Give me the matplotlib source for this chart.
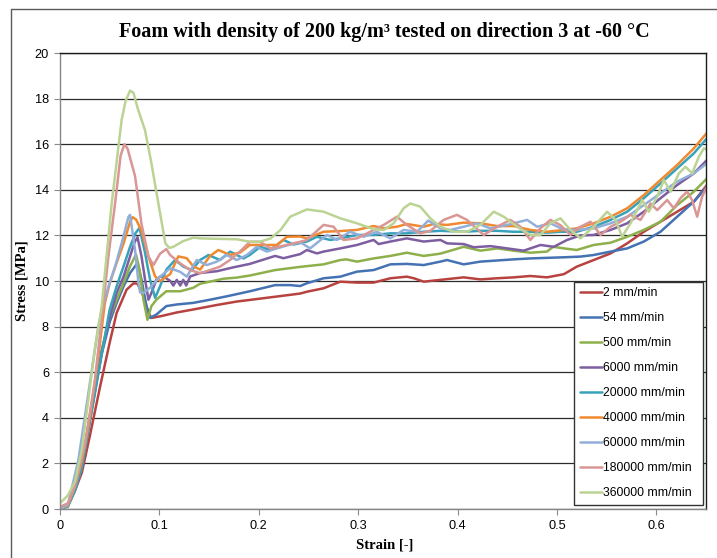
import numpy as np
import matplotlib
matplotlib.use("Agg")
import matplotlib.pyplot as plt
from matplotlib.lines import Line2D

# (strain, stress) points
rate_2 = [(0, 0), (0.008, 0.15), (0.015, 0.8), (0.022, 1.6), (0.030, 3.2), (0.040, 5.3), (0.050, 7.3),
          (0.057, 8.6), (0.067, 9.62), (0.074, 9.9), (0.078, 9.88), (0.084, 9.33), (0.089, 8.6),
          (0.092, 8.38), (0.1007, 8.45), (0.1175, 8.62), (0.134, 8.75), (0.158, 8.95), (0.178, 9.1),
          (0.191, 9.17), (0.2165, 9.31), (0.2417, 9.45), (0.2484, 9.53), (0.2652, 9.68), (0.282, 9.97),
          (0.2988, 9.93), (0.3156, 9.93), (0.3324, 10.12), (0.349, 10.19), (0.356, 10.12), (0.366, 9.97),
          (0.3827, 10.05), (0.4062, 10.16), (0.423, 10.07), (0.4398, 10.12), (0.4566, 10.16),
          (0.4733, 10.22), (0.49, 10.16), (0.507, 10.3), (0.520, 10.63), (0.537, 10.92), (0.554, 11.21),
          (0.5707, 11.65), (0.5874, 12.16), (0.6042, 12.6), (0.621, 13.04), (0.6378, 13.48), (0.651, 14.21)]

rate_54 = [(0, 0), (0.008, 0.15), (0.015, 0.9), (0.022, 1.9), (0.032, 4.4), (0.042, 6.8), (0.050, 8.2),
           (0.057, 9.04), (0.064, 9.77), (0.0705, 10.35), (0.078, 10.79), (0.082, 10.06), (0.087, 8.9),
           (0.0906, 8.38), (0.097, 8.53), (0.107, 8.9), (0.1175, 8.97), (0.134, 9.04), (0.151, 9.18),
           (0.168, 9.33), (0.191, 9.55), (0.2165, 9.82), (0.2316, 9.82), (0.2417, 9.78), (0.2484, 9.9),
           (0.2652, 10.12), (0.282, 10.19), (0.2988, 10.41), (0.3156, 10.48), (0.3324, 10.73),
           (0.349, 10.75), (0.366, 10.7), (0.3827, 10.85), (0.3894, 10.92), (0.4062, 10.73),
           (0.423, 10.85), (0.4566, 10.95), (0.4733, 10.99), (0.507, 11.04), (0.5237, 11.07),
           (0.537, 11.14), (0.554, 11.29), (0.5707, 11.43), (0.5874, 11.73), (0.6042, 12.16),
           (0.621, 12.82), (0.6378, 13.48), (0.651, 14.14)]

rate_500 = [(0, 0), (0.008, 0.15), (0.015, 1.0), (0.022, 2.0), (0.032, 4.6), (0.042, 7.0), (0.050, 8.4),
            (0.057, 9.18), (0.064, 9.92), (0.0705, 10.65), (0.0765, 11.16), (0.080, 10.5), (0.084, 9.18),
            (0.088, 8.3), (0.092, 8.9), (0.097, 9.18), (0.107, 9.55), (0.121, 9.55), (0.134, 9.7),
            (0.141, 9.88), (0.1645, 10.1), (0.178, 10.15), (0.191, 10.24), (0.2165, 10.48),
            (0.2417, 10.62), (0.2652, 10.73), (0.282, 10.92), (0.2878, 10.95), (0.2988, 10.85),
            (0.3156, 10.99), (0.3324, 11.1), (0.349, 11.24), (0.366, 11.1), (0.3827, 11.2),
            (0.4062, 11.5), (0.423, 11.33), (0.4398, 11.43), (0.4566, 11.33), (0.4733, 11.24),
            (0.49, 11.29), (0.4963, 11.5), (0.507, 11.43), (0.520, 11.36), (0.537, 11.58),
            (0.554, 11.68), (0.5707, 11.94), (0.5874, 12.24), (0.6042, 12.6), (0.621, 13.33),
            (0.6378, 13.92), (0.651, 14.5)]

rate_6000 = [(0, 0), (0.008, 0.15), (0.015, 0.9), (0.022, 1.9), (0.032, 4.4), (0.042, 6.9), (0.050, 8.4),
             (0.057, 9.48), (0.064, 10.2), (0.0705, 11.08), (0.075, 11.7), (0.078, 11.92), (0.082, 11.08),
             (0.0856, 10.06), (0.089, 9.18), (0.092, 9.48), (0.097, 10.06), (0.1007, 10.19),
             (0.104, 10.2), (0.111, 10.0), (0.114, 9.8), (0.1175, 10.05), (0.121, 9.8), (0.124, 10.05),
             (0.127, 9.8), (0.131, 10.2), (0.141, 10.35), (0.158, 10.43), (0.1745, 10.6), (0.191, 10.75),
             (0.2165, 11.1), (0.2249, 11.0), (0.2417, 11.18), (0.2484, 11.36), (0.2585, 11.21),
             (0.2652, 11.29), (0.282, 11.43), (0.2988, 11.58), (0.3156, 11.8), (0.3206, 11.62),
             (0.3324, 11.73), (0.349, 11.87), (0.366, 11.73), (0.3827, 11.8), (0.3894, 11.65),
             (0.4062, 11.62), (0.4163, 11.48), (0.4331, 11.53), (0.4499, 11.43), (0.4666, 11.33),
             (0.4834, 11.58), (0.4968, 11.5), (0.5102, 11.8), (0.5237, 12.0), (0.537, 12.02),
             (0.554, 12.24), (0.5707, 12.53), (0.5874, 13.04), (0.6042, 13.63), (0.621, 14.21),
             (0.6378, 14.72), (0.651, 15.31)]

rate_20000 = [(0, 0), (0.008, 0.1), (0.015, 0.8), (0.022, 1.8), (0.032, 4.3), (0.042, 6.8), (0.050, 8.75),
              (0.057, 9.77), (0.064, 10.65), (0.0705, 11.5), (0.076, 12.1), (0.080, 12.33),
              (0.0856, 11.23), (0.0906, 10.06), (0.0957, 9.26), (0.1007, 9.77), (0.107, 10.5),
              (0.1158, 10.92), (0.1242, 10.63), (0.1326, 10.48), (0.141, 10.92), (0.1494, 11.14),
              (0.161, 10.92), (0.1712, 11.29), (0.1846, 10.99), (0.191, 11.14), (0.2014, 11.5),
              (0.2115, 11.36), (0.2249, 11.8), (0.235, 11.6), (0.2484, 11.73), (0.2585, 11.94),
              (0.272, 11.8), (0.282, 11.87), (0.2988, 12.02), (0.3156, 12.02), (0.3324, 12.09),
              (0.349, 12.09), (0.366, 12.16), (0.3827, 12.2), (0.4062, 12.16), (0.423, 12.2),
              (0.4398, 12.2), (0.4566, 12.16), (0.4733, 12.16), (0.49, 12.12), (0.5035, 12.16),
              (0.520, 12.16), (0.537, 12.38), (0.554, 12.68), (0.5707, 13.04), (0.5874, 13.63),
              (0.6042, 14.28), (0.621, 14.94), (0.6378, 15.6), (0.651, 16.26)]

rate_40000 = [(0, 0), (0.008, 0.15), (0.015, 1.0), (0.022, 2.1), (0.030, 4.0), (0.038, 6.5), (0.045, 9.0),
              (0.050, 9.9), (0.057, 10.8), (0.064, 11.65), (0.0705, 12.6), (0.073, 12.8), (0.0765, 12.7),
              (0.082, 12.2), (0.089, 11.07), (0.0957, 10.2), (0.1007, 10.0), (0.1108, 10.3),
              (0.119, 11.08), (0.1275, 11.0), (0.134, 10.65), (0.141, 10.5), (0.151, 11.1),
              (0.1594, 11.36), (0.1712, 11.14), (0.1813, 11.25), (0.191, 11.58), (0.2048, 11.58),
              (0.2182, 11.58), (0.2283, 11.94), (0.2417, 11.95), (0.2484, 11.87), (0.2652, 12.16),
              (0.282, 12.19), (0.2988, 12.24), (0.3156, 12.41), (0.3257, 12.31), (0.339, 12.38),
              (0.349, 12.5), (0.366, 12.38), (0.376, 12.5), (0.3894, 12.46), (0.4062, 12.56),
              (0.423, 12.53), (0.4398, 12.41), (0.4566, 12.41), (0.4733, 12.24), (0.49, 12.16),
              (0.507, 12.24), (0.52, 12.31), (0.537, 12.53), (0.554, 12.82), (0.5707, 13.19),
              (0.5874, 13.77), (0.6042, 14.43), (0.621, 15.09), (0.6378, 15.82), (0.651, 16.5)]

rate_60000 = [(0, 0), (0.008, 0.2), (0.0185, 2.15), (0.0285, 5.07), (0.0386, 8.0), (0.042, 8.7),
              (0.0487, 9.75), (0.0554, 10.63), (0.062, 11.65), (0.0688, 12.8), (0.0705, 12.9),
              (0.0755, 11.36), (0.079, 9.9), (0.0806, 9.5), (0.084, 9.48), (0.0906, 9.7),
              (0.1007, 10.19), (0.1108, 10.56), (0.121, 10.4), (0.1276, 10.19), (0.1376, 10.92),
              (0.1477, 10.7), (0.1578, 10.85), (0.1678, 11.14), (0.1779, 10.92), (0.188, 11.14),
              (0.198, 11.5), (0.2081, 11.29), (0.2182, 11.43), (0.2316, 11.6), (0.2417, 11.7),
              (0.2517, 11.43), (0.2686, 12.02), (0.2786, 11.8), (0.292, 12.16), (0.3055, 11.94),
              (0.3189, 12.16), (0.3324, 11.87), (0.3458, 12.24), (0.3592, 12.16), (0.3706, 12.65),
              (0.3827, 12.31), (0.3927, 12.24), (0.4062, 12.38), (0.4196, 12.53), (0.4331, 12.31),
              (0.4499, 12.46), (0.47, 12.68), (0.4801, 12.38), (0.4935, 12.53), (0.507, 12.25),
              (0.52, 12.24), (0.537, 12.31), (0.554, 12.53), (0.5707, 12.82), (0.5874, 13.33),
              (0.6042, 13.85), (0.621, 14.36), (0.6378, 14.72), (0.651, 15.16)]

rate_180000 = [(0, 0.1), (0.008, 0.25), (0.015, 1.0), (0.025, 2.8), (0.035, 5.6), (0.0436, 9.0),
               (0.0487, 11.07), (0.0554, 13.4), (0.061, 15.5), (0.0648, 16.0), (0.068, 15.8),
               (0.0755, 14.6), (0.082, 12.5), (0.089, 11.07), (0.094, 10.7), (0.1007, 11.2),
               (0.107, 11.4), (0.1108, 11.14), (0.121, 10.77), (0.131, 10.48), (0.141, 10.34),
               (0.151, 10.48), (0.161, 10.63), (0.171, 10.92), (0.181, 11.29), (0.191, 11.72),
               (0.2014, 11.72), (0.2115, 11.43), (0.2249, 11.55), (0.2417, 11.72), (0.2484, 11.8),
               (0.2652, 12.46), (0.2753, 12.38), (0.2853, 11.8), (0.2988, 11.87), (0.3122, 12.16),
               (0.3257, 12.46), (0.339, 12.82), (0.349, 12.46), (0.3625, 12.09), (0.3726, 12.2),
               (0.386, 12.68), (0.3994, 12.9), (0.4095, 12.68), (0.4263, 12.02), (0.4398, 12.38),
               (0.4532, 12.68), (0.4633, 12.38), (0.4733, 11.8), (0.4834, 12.31), (0.4935, 12.68),
               (0.5035, 12.45), (0.5136, 12.02), (0.5237, 12.38), (0.5338, 12.6), (0.5439, 12.02),
               (0.554, 12.38), (0.564, 12.6), (0.574, 12.9), (0.5841, 12.68), (0.5942, 13.4),
               (0.6009, 13.11), (0.6109, 13.55), (0.6176, 13.19), (0.6243, 13.63), (0.631, 13.92),
               (0.636, 13.55), (0.6411, 12.82), (0.6461, 13.7), (0.651, 14.14)]

rate_360000 = [(0, 0.25), (0.008, 0.6), (0.015, 1.2), (0.022, 2.6), (0.0285, 4.8), (0.035, 7.0),
               (0.042, 8.9), (0.052, 13.4), (0.062, 17.06), (0.066, 17.9), (0.0705, 18.35),
               (0.074, 18.25), (0.078, 17.6), (0.0856, 16.6), (0.092, 15.16), (0.099, 13.4),
               (0.106, 11.65), (0.110, 11.45), (0.114, 11.5), (0.124, 11.75), (0.134, 11.9),
               (0.141, 11.87), (0.158, 11.85), (0.178, 11.83), (0.191, 11.72), (0.201, 11.72),
               (0.212, 11.87), (0.222, 12.24), (0.2316, 12.82), (0.2484, 13.14), (0.2652, 13.04),
               (0.282, 12.75), (0.2988, 12.53), (0.3156, 12.27), (0.3257, 12.24), (0.3357, 12.53),
               (0.3458, 13.19), (0.3525, 13.4), (0.3625, 13.26), (0.3726, 12.75), (0.3827, 12.38),
               (0.3961, 12.16), (0.4095, 12.16), (0.423, 12.46), (0.4364, 13.04), (0.4465, 12.82),
               (0.4599, 12.38), (0.4733, 12.02), (0.4834, 12.02), (0.4935, 12.53), (0.5035, 12.75),
               (0.5136, 12.24), (0.5237, 11.87), (0.537, 12.38), (0.5505, 13.04), (0.5589, 12.68),
               (0.5656, 11.94), (0.574, 12.53), (0.5858, 13.55), (0.5925, 13.04), (0.6009, 13.7),
               (0.6076, 14.43), (0.6143, 13.92), (0.6227, 14.72), (0.6294, 15.01), (0.6361, 14.72),
               (0.6428, 15.45), (0.6479, 15.82), (0.651, 15.75)]

labels = ["2 mm/min", "54 mm/min", "500 mm/min", "6000 mm/min", "20000 mm/min",
          "40000 mm/min", "60000 mm/min", "180000 mm/min", "360000 mm/min"]
series = [rate_2, rate_54, rate_500, rate_6000, rate_20000,
          rate_40000, rate_60000, rate_180000, rate_360000]
colors = ["#B8423F", "#4472B2", "#8DB04B", "#7D5EA0", "#38A2BB",
          "#F08A30", "#92AFD9", "#D99694", "#BBD393"]

x_ticks = [0, 0.1, 0.2, 0.3, 0.4, 0.5, 0.6]
y_ticks = [0, 2, 4, 6, 8, 10, 12, 14, 16, 18, 20]

W, H = 717, 558
fig = plt.figure(figsize=(W / 100, H / 100), dpi=100)
ax = fig.add_axes([60 / W, 1 - 509 / H, 646 / W, 456 / H])

for pts, lab, col in zip(series, labels, colors):
    d = np.array(pts)
    ax.plot(d[:, 0], d[:, 1], color=col, lw=1.8, label=lab,
            solid_joinstyle='round', solid_capstyle='round')

ax.set_xlim(0, 0.65)
ax.set_ylim(0, 20)
ax.set_xticks(x_ticks)
ax.set_xticklabels([("%g" % t) for t in x_ticks])
ax.set_yticks(y_ticks)
ax.yaxis.grid(True, color="#2b2b2b", lw=0.9)
ax.set_axisbelow(True)
ax.tick_params(axis='both', direction='out', length=4, width=0.8, color="#8a8a8a",
               labelsize=9.2, pad=4)
for lbl in ax.get_xticklabels() + ax.get_yticklabels():
    lbl.set_family("Liberation Sans")
for s in ["left", "bottom"]:
    ax.spines[s].set_color("#868686")
    ax.spines[s].set_linewidth(1.0)
for s in ["top", "right"]:
    ax.spines[s].set_color("#1a1a1a")
    ax.spines[s].set_linewidth(1.0)

leg = ax.legend(loc="upper left", bbox_to_anchor=(514 / 646, 0, 129 / 646, 227 / 456),
                mode="expand", borderaxespad=0,
                prop={"family": "Liberation Sans", "size": 8.8}, handlelength=1.8,
                handletextpad=0.15, labelspacing=1.06, borderpad=0.45, fancybox=False,
                framealpha=1, edgecolor="#333333")
leg.get_frame().set_linewidth(1.0)

fig.text(384 / W, 1 - 32 / H, "Foam with density of 200 kg/m³ tested on direction 3 at -60 °C",
         ha="center", va="center", family="Liberation Serif", weight="bold", size=14.5)
fig.text(22 / W, 1 - 281 / H, "Stress [MPa]", ha="center", va="center", rotation=90,
         family="Liberation Serif", weight="bold", size=10.5)
fig.text(385 / W, 1 - 545 / H, "Strain [-]", ha="center", va="center",
         family="Liberation Serif", weight="bold", size=10.5)

# outer chart-area border (only top and left are inside the picture)
fig.add_artist(Line2D([11 / W, 11 / W, 1.0], [0.0, 1 - 9 / H, 1 - 9 / H],
                      transform=fig.transFigure, color="#5a5a5a", lw=1.0))

fig.savefig("out.png", dpi=100)
